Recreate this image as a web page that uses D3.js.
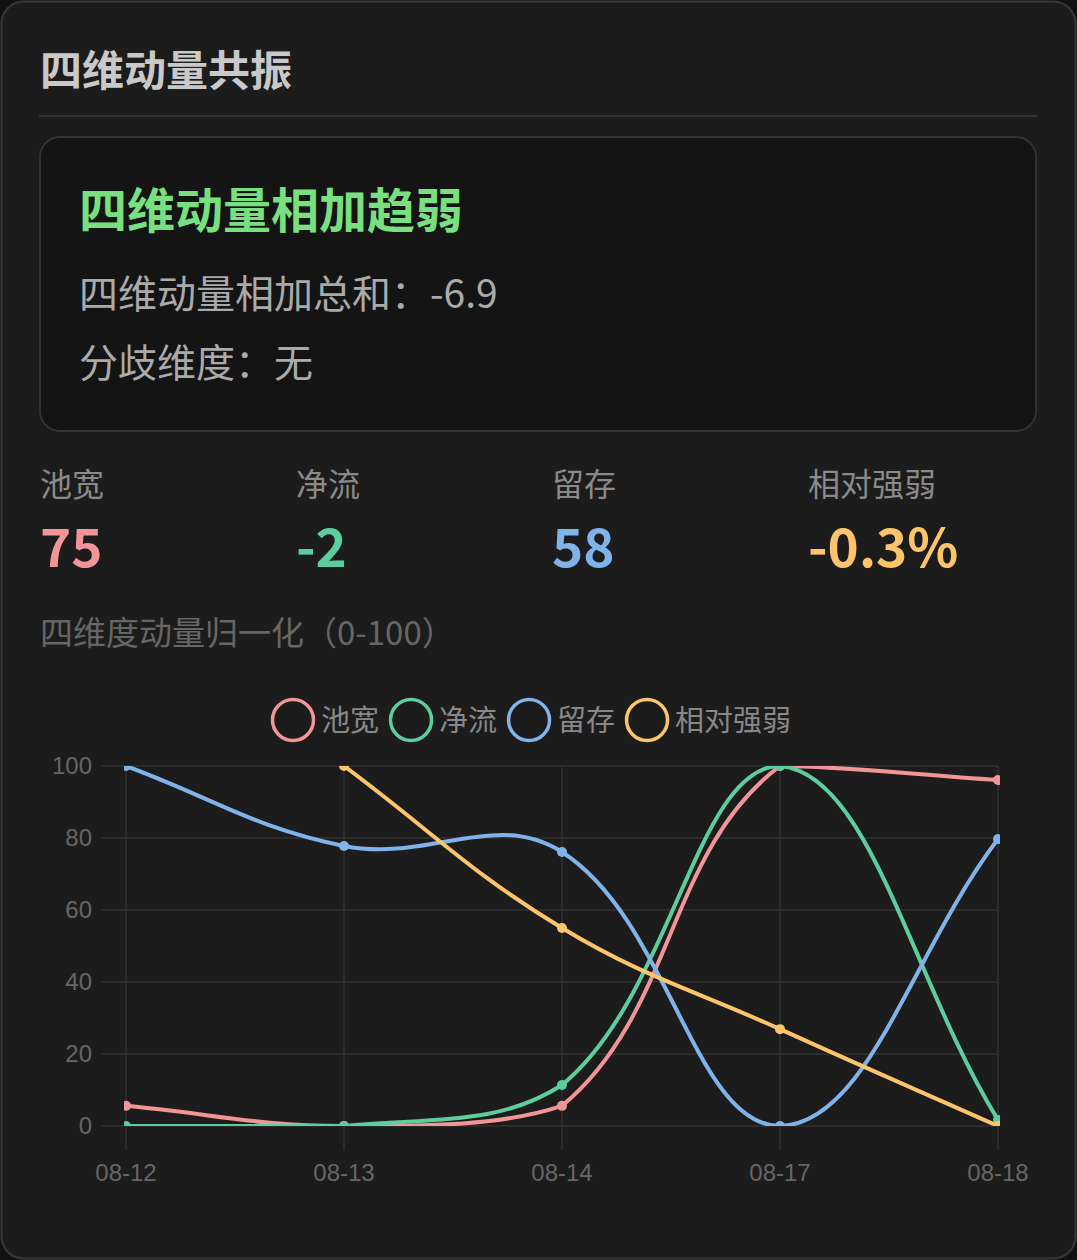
<!DOCTYPE html>
<html><head><meta charset="utf-8">
<script src="https://cdn.jsdelivr.net/npm/d3@7/dist/d3.min.js"></script>
<style>
html,body{margin:0;padding:0;background:#111;}
svg{display:block;}
</style></head><body>
<svg id="c" width="1077" height="1260"></svg>
<script>
// ---- data ----
const dates = ["08-12","08-13","08-14","08-17","08-18"];
const poolWidth   = [5.6, 0, 5.6, 100, 96.1];
const netFlow     = [0, 0, 11.4, 100, 1.7];
const retention   = [100, 77.8, 76.1, 0, 79.7];
const relStrength = [null, 100, 55, 26.9, 0];
const seriesNames = ["池宽","净流","留存","相对强弱"];
const seriesColors = ["#f29597","#5ccd9e","#7fb3ea","#fcc56b"];
const yTicks = [0,20,40,60,80,100];
const statLabels = ["池宽","净流","留存","相对强弱"];
const statValues = ["75","-2","58","-0.3%"];
const titleText = "四维动量共振";
const signalText = "四维动量相加趋弱";
const sumLine = "四维动量相加总和：-6.9";
const divergeLine = "分歧维度：无";
const chartTitle = "四维度动量归一化（0-100）";

const CJK = "'Noto Sans CJK SC','Noto Sans',sans-serif";
const LAT = "'Liberation Sans',Arial,'Noto Sans CJK SC',sans-serif";

const svg = d3.select("#c");

// card
svg.append("rect").attr("x",1.5).attr("y",1.5).attr("width",1074).attr("height",1257)
  .attr("rx",22).attr("fill","#1c1c1c").attr("stroke","#383838").attr("stroke-width",2);
svg.append("text").attr("x",40).attr("y",86).text(titleText)
  .attr("font-family",CJK).attr("font-weight",700).attr("font-size",42).attr("fill","#c9c9c9");
svg.append("line").attr("x1",39).attr("x2",1038).attr("y1",116).attr("y2",116)
  .attr("stroke","#333").attr("stroke-width",2);

// signal box
svg.append("rect").attr("x",40).attr("y",137).attr("width",996).attr("height",294)
  .attr("rx",20).attr("fill","#141414").attr("stroke","#333").attr("stroke-width",2);
svg.append("text").attr("x",79).attr("y",228).text(signalText)
  .attr("font-family",CJK).attr("font-weight",700).attr("font-size",48).attr("fill","#79e07f");
svg.append("text").attr("x",79).attr("y",308).text(sumLine)
  .attr("font-family",CJK).attr("font-size",39).attr("fill","#aaaaaa");
svg.append("text").attr("x",79).attr("y",377).text(divergeLine)
  .attr("font-family",CJK).attr("font-size",39).attr("fill","#aaaaaa");

// stats
const statX = d3.scaleLinear().domain([0,1]).range([40,296]);
statLabels.forEach((l,i)=>{
  svg.append("text").attr("x",statX(i)).attr("y",496).text(l)
    .attr("font-family",CJK).attr("font-size",32).attr("fill","#8a8a8a");
  svg.append("text").attr("x",statX(i)).attr("y",567).text(statValues[i])
    .attr("font-family",CJK).attr("font-weight",700).attr("font-size",53).attr("fill",seriesColors[i]);
});

svg.append("text").attr("x",40).attr("y",645).text(chartTitle)
  .attr("font-family",CJK).attr("font-size",33).attr("fill","#666");

// legend
let lx = 271;
seriesNames.forEach((n,i)=>{
  svg.append("circle").attr("cx",lx+22).attr("cy",720).attr("r",20.5)
    .attr("fill","none").attr("stroke",seriesColors[i]).attr("stroke-width",3.5);
  const t = svg.append("text").attr("x",lx+50).attr("y",731).text(n)
    .attr("font-family",CJK).attr("font-size",29).attr("fill","#888");
  lx += 50 + t.node().getComputedTextLength() + 10;
});

// chart
const x = d3.scalePoint().domain(dates).range([126,998]);
const y = d3.scaleLinear().domain([0,100]).range([1126,766]);
const area = {left:126,right:998,top:766,bottom:1126};

const grid = svg.append("g");
yTicks.forEach(v=>{
  grid.append("line").attr("x1",101).attr("x2",998).attr("y1",y(v)).attr("y2",y(v))
    .attr("stroke","#2b2b2b").attr("stroke-width",2);
});
dates.forEach(d=>{
  grid.append("line").attr("x1",x(d)).attr("x2",x(d)).attr("y1",766).attr("y2",1150)
    .attr("stroke","#2b2b2b").attr("stroke-width",2);
});
yTicks.forEach(v=>{
  svg.append("text").attr("x",92).attr("y",y(v)+8).attr("text-anchor","end").text(v)
    .attr("font-family",LAT).attr("font-size",24).attr("fill","#666");
});
dates.forEach(d=>{
  svg.append("text").attr("x",x(d)).attr("y",1181).attr("text-anchor","middle").text(d)
    .attr("font-family",LAT).attr("font-size",24).attr("fill","#666");
});

svg.append("defs").append("clipPath").attr("id","clip").append("rect")
  .attr("x",area.left-2).attr("y",area.top).attr("width",area.right-area.left+4).attr("height",area.bottom-area.top);

function controlPoints(pts, t){
  const n = pts.length, res = [];
  let prev = null;
  const cl = (v,a,b)=>Math.max(a,Math.min(b,v));
  for(let i=0;i<n;i++){
    const p = pts[i];
    if(p.skip){res.push(null);prev=null;continue;}
    if(!prev) prev = p;
    let next = pts[Math.min(i+1,n-1)];
    if(next.skip) next = p;
    const d01 = Math.hypot(p.x-prev.x,p.y-prev.y);
    const d12 = Math.hypot(next.x-p.x,next.y-p.y);
    let s01 = d01/(d01+d12), s12 = d12/(d01+d12);
    if(isNaN(s01)) s01 = 0; if(isNaN(s12)) s12 = 0;
    const fa = t*s01, fb = t*s12;
    res.push({
      c1x: cl(p.x-fa*(next.x-prev.x),area.left,area.right), c1y: cl(p.y-fa*(next.y-prev.y),area.top,area.bottom),
      c2x: cl(p.x+fb*(next.x-prev.x),area.left,area.right), c2y: cl(p.y+fb*(next.y-prev.y),area.top,area.bottom)
    });
    prev = p;
  }
  return res;
}

const allSeries = [poolWidth, netFlow, retention, relStrength];
const plot = svg.append("g").attr("clip-path","url(#clip)");
allSeries.forEach((vals,si)=>{
  const pts = vals.map((v,i)=>({x:x(dates[i]), y: v==null?NaN:y(v), skip: v==null}));
  const cps = controlPoints(pts, 0.4);
  const p = d3.path();
  let started = false, last = -1;
  pts.forEach((pt,i)=>{
    if(pt.skip){started=false;return;}
    if(!started){p.moveTo(pt.x,pt.y);started=true;}
    else p.bezierCurveTo(cps[last].c2x,cps[last].c2y,cps[i].c1x,cps[i].c1y,pt.x,pt.y);
    last = i;
  });
  plot.append("path").attr("d",p.toString()).attr("fill","none")
    .attr("stroke",seriesColors[si]).attr("stroke-width",4);
  plot.selectAll(null).data(pts.filter(d=>!d.skip)).enter().append("circle")
    .attr("cx",d=>d.x).attr("cy",d=>d.y).attr("r",5).attr("fill",seriesColors[si]);
});
</script>
</body></html>
